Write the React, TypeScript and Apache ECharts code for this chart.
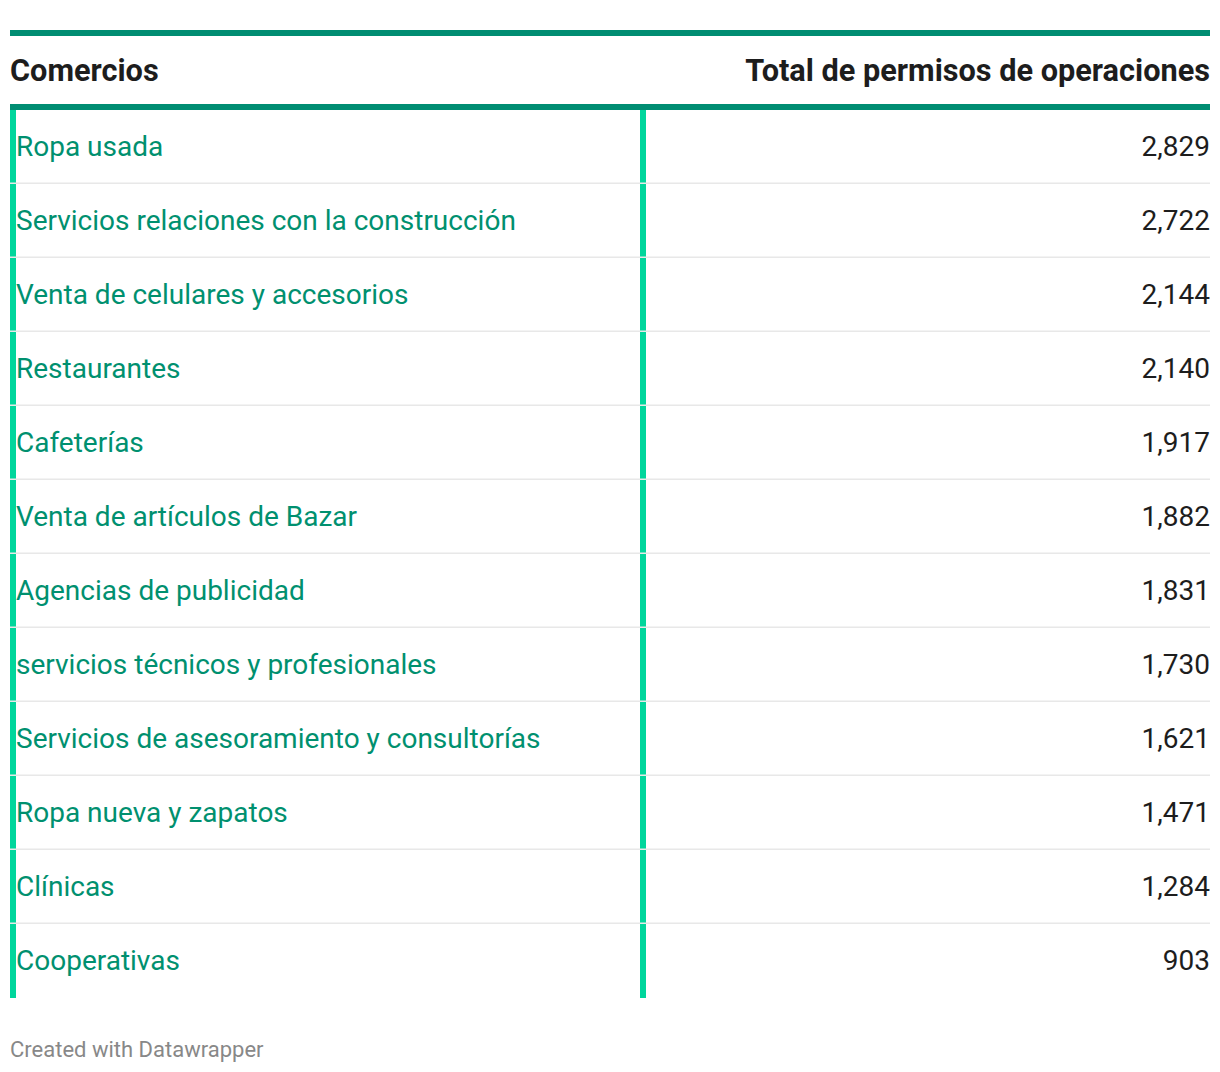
import React, { useEffect, useRef } from "react";
import * as echarts from "echarts";

const categories = [
  "Ropa usada",
  "Servicios relaciones con la construcción",
  "Venta de celulares y accesorios",
  "Restaurantes",
  "Cafeterías",
  "Venta de artículos de Bazar",
  "Agencias de publicidad",
  "servicios técnicos y profesionales",
  "Servicios de asesoramiento y consultorías",
  "Ropa nueva y zapatos",
  "Clínicas",
  "Cooperativas",
];
const totals = [2829, 2722, 2144, 2140, 1917, 1882, 1831, 1730, 1621, 1471, 1284, 903];
const headerLeft = "Comercios";
const headerRight = "Total de permisos de operaciones";
const footer = "Created with Datawrapper";

const FONT = "Roboto, 'Noto Sans', sans-serif";

export default function App() {
  const ref = useRef<HTMLDivElement>(null);
  useEffect(() => {
    document.body.style.margin = "0";
    const chart = echarts.init(ref.current!, null, { renderer: "svg" });
    const n = categories.length;
    chart.setOption({
      animation: false,
      backgroundColor: "#ffffff",
      grid: { left: 10, right: 10, top: 110, height: 74 * n },
      xAxis: { type: "value", min: 0, max: 1, show: false },
      yAxis: { type: "category", data: categories, inverse: true, show: false },
      graphic: [
        { type: "rect", shape: { x: 10, y: 30, width: 1200, height: 6 }, style: { fill: "#008d72" } },
        { type: "rect", shape: { x: 10, y: 104, width: 1200, height: 6 }, style: { fill: "#008d72" } },
        {
          type: "text", x: 10, y: 70,
          style: { text: headerLeft, font: `bold 30.7px ${FONT}`, fill: "#1d1d1d", textVerticalAlign: "middle", textAlign: "left" },
        },
        {
          type: "text", x: 1210, y: 70,
          style: { text: headerRight, font: `bold 30.7px ${FONT}`, fill: "#1d1d1d", textVerticalAlign: "middle", textAlign: "right" },
        },
        {
          type: "text", x: 10, y: 1049,
          style: { text: footer, font: `22px ${FONT}`, fill: "#888888", textVerticalAlign: "middle", textAlign: "left" },
        },
      ],
      series: [
        {
          type: "custom",
          data: totals.map((v, i) => [0, i, v]),
          encode: { x: 0, y: 1 },
          renderItem: (params: any, api: any) => {
            const idx = api.value(1);
            const val = api.value(2);
            const center = api.coord([0, idx]);
            const h = api.size([0, 1])[1];
            const top = center[1] - h / 2;
            const cs = params.coordSys;
            const left = cs.x;
            const right = cs.x + cs.width;
            const children: any[] = [
              { type: "rect", shape: { x: left, y: top, width: 6, height: h }, style: { fill: "#00d69c" } },
              { type: "rect", shape: { x: 640, y: top, width: 6, height: h }, style: { fill: "#00d69c" } },
              {
                type: "text", x: left + 6, y: center[1] - 1,
                style: { text: categories[idx], font: `28px ${FONT}`, fill: "#00906f", textVerticalAlign: "middle", textAlign: "left" },
              },
              {
                type: "text", x: right, y: center[1] - 1,
                style: { text: Number(val).toLocaleString("en-US"), font: `28px ${FONT}`, fill: "#1d1d1d", textVerticalAlign: "middle", textAlign: "right" },
              },
            ];
            if (idx < n - 1) {
              children.push({
                type: "rect", shape: { x: left, y: top + h - 1.5, width: cs.width, height: 1.5 },
                style: { fill: "#e8e8e8" },
              });
            }
            return { type: "group", children };
          },
        },
      ],
    });
    return () => chart.dispose();
  }, []);
  return <div ref={ref} style={{ width: 1220, height: 1072 }} />;
}
